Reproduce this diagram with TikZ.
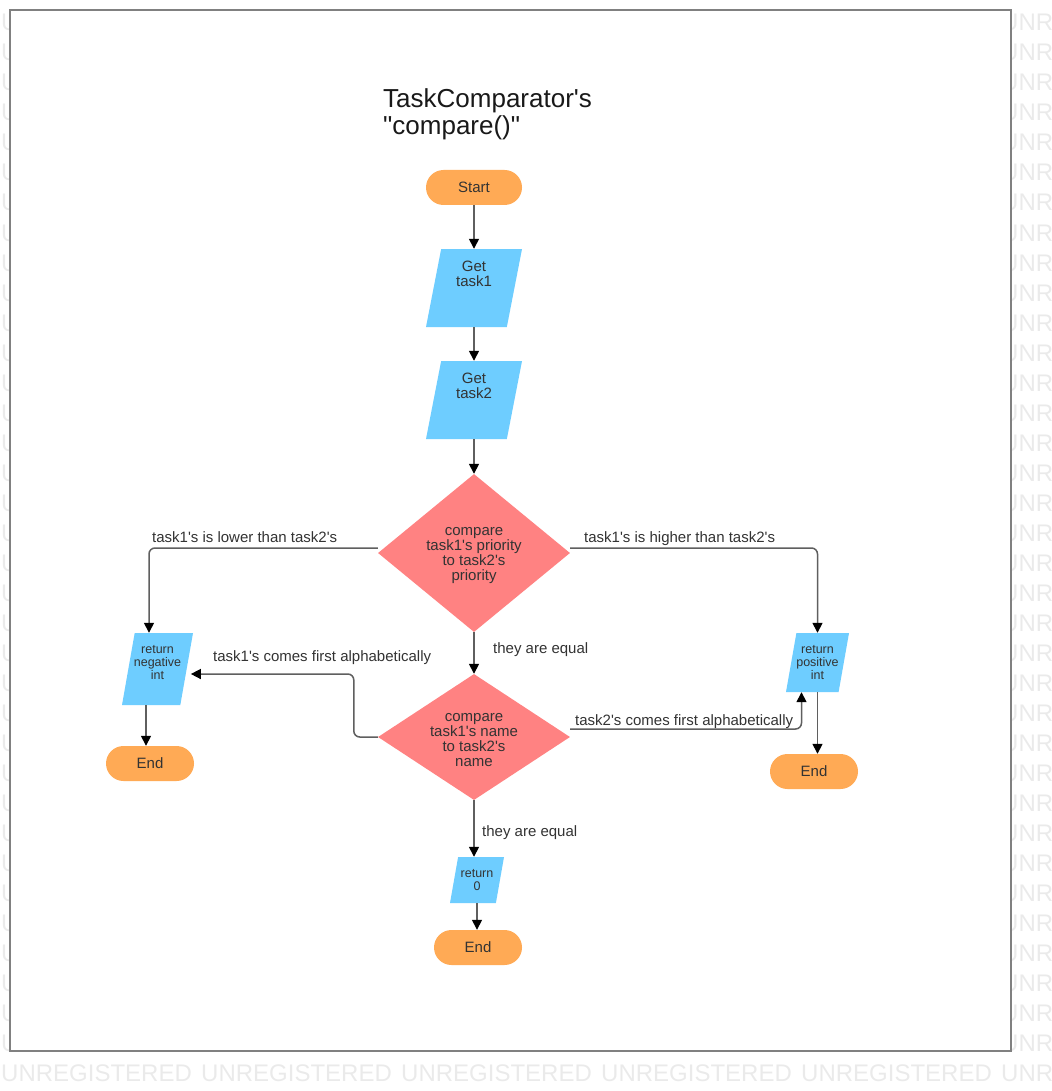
\documentclass[tikz,border=0pt]{standalone}
\usepackage{fontspec}
\setmainfont{Liberation Sans}[Ligatures=TeXOff]
\usetikzlibrary{shapes.geometric,arrows.meta}
\definecolor{pillorange}{RGB}{255,170,85}
\definecolor{parablue}{RGB}{110,205,255}
\definecolor{diasalmon}{RGB}{255,130,130}
\definecolor{linegray}{RGB}{95,95,95}
\definecolor{textgray}{RGB}{51,51,51}
\definecolor{framegray}{RGB}{128,128,128}
\definecolor{wmgray}{RGB}{234,234,234}

\begin{document}
\begin{tikzpicture}[
		x=1pt, y=-1pt,
		every node/.style={text=textgray, font=\fontsize{15}{15}\selectfont},
		wm/.style={anchor=base west, inner sep=0pt, text=wmgray, font=\fontsize{24}{24}\selectfont},
		pill/.style={rectangle, rounded corners=17.5pt, fill=pillorange, minimum height=35pt, minimum width=88pt, inner sep=0pt},
		para/.style={trapezium, trapezium left angle=80, trapezium right angle=100, trapezium stretches body, fill=parablue, inner sep=0pt, text depth=0pt},
		decision/.style={diamond, aspect=1.5, fill=diasalmon, minimum width=192pt, inner sep=0pt},
		small/.style={align=center, font=\fontsize{12.5}{13}\selectfont},
		flow/.style={draw=linegray, line width=1.5pt, rounded corners=6pt, -{Triangle[length=10pt,width=10pt,color=black]}},
		lbl/.style={anchor=base west, inner sep=0pt}
	]
	\useasboundingbox (0,0) rectangle (1051,1091);

	% Watermark
	\begin{scope}
		\clip (0,0) rectangle (1051,1091);
		\foreach \row in {0,...,35}
			\foreach \col in {0,...,5}
				\node[wm] (wm-\row-\col) at (200*\col+1, 31+30*\row) {UNREGISTERED};
	\end{scope}
	\draw[framegray, line width=2pt, fill=white] (10,10) rectangle (1011,1051);

	% Title
	\node[anchor=north west, inner sep=0pt, align=left, text=black!90, font=\fontsize{26}{27}\selectfont] (title) at (383,88) {TaskComparator's\\"compare()"};

	% Nodes
	\node[pill, minimum width=96pt] (start) at (474,187.5) {Start};
	\node[para, trapezium left angle=79, trapezium right angle=101, minimum width=96pt, text height=78pt,
		label={[align=center, yshift=14.5pt]center:{Get\\task1}}] (task1) at (474,288) {};
	\node[para, trapezium left angle=79, trapezium right angle=101, minimum width=96pt, text height=78pt,
		label={[align=center, yshift=14.5pt]center:{Get\\task2}}] (task2) at (474,400) {};
	\node[decision, minimum height=158pt,
		label={[align=center, yshift=-3pt]center:{compare\\task1's priority\\to task2's\\priority}}] (cmp1) at (474,553) {};
	\node[decision, minimum height=126pt,
		label={[align=center, yshift=-3pt]center:{compare\\task1's name\\to task2's\\name}}] (cmp2) at (474,737) {};
	\node[para, minimum width=71pt, text height=72pt,
		label={[small, yshift=6pt]center:{return\\negative\\int}}] (negint) at (157.5,669) {};
	\node[para, minimum width=63pt, text height=59pt,
		label={[small]center:{return\\positive\\int}}] (posint) at (817.5,662.5) {};
	\node[para, minimum width=54pt, text height=46pt,
		label={[small]center:{return\\0}}] (ret0) at (477,880) {};
	\node[pill] (endneg) at (150,763.5) {End};
	\node[pill] (endpos) at (814,771.5) {End};
	\node[pill] (end0) at (478,947.5) {End};

	% Connections
	\draw[flow] (start) -- (task1);
	\draw[flow] (task1) -- (task2);
	\draw[flow] (task2) -- (cmp1);
	\draw[flow] ([yshift=5pt]cmp1.west) -| ([xshift=-8.5pt]negint.north);
	\draw[flow] ([yshift=5pt]cmp1.east) -| (posint.north);
	\draw[flow] (cmp1) -- (cmp2);
	\draw[flow] (cmp2.west) -- ++(-24,0) |- ([xshift=4pt, yshift=-5pt]negint.east);
	\draw[flow] ([yshift=8pt]cmp2.east) -| ([xshift=-16pt]posint.south);
	\draw[flow] (posint.south) -- (posint.south |- endpos.north);
	\draw[flow] ([xshift=-11.5pt]negint.south) -- ([xshift=-11.5pt]negint.south |- endneg.north);
	\draw[flow] (cmp2.south) -- (cmp2.south |- ret0.north);
	\draw[flow] (ret0.south) -- (ret0.south |- end0.north);

	% Labels
	\node[lbl] (lower) at (152,542) {task1's is lower than task2's};
	\node[lbl] (higher) at (584,542) {task1's is higher than task2's};
	\node[lbl] (equal1) at (493,653) {they are equal};
	\node[lbl] (first1) at (213,661) {task1's comes first alphabetically};
	\node[lbl] (first2) at (575,725) {task2's comes first alphabetically};
	\node[lbl] (equal2) at (482,836) {they are equal};
\end{tikzpicture}
\end{document}
